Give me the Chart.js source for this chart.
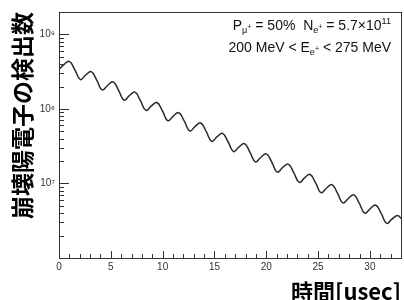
<!DOCTYPE html>
<html>
<head>
<meta charset="utf-8">
<script src="https://cdn.jsdelivr.net/npm/chart.js@4/dist/chart.umd.min.js"></script>
<style>
  html, body { margin: 0; padding: 0; background: #fff; }
</style>
</head>
<body>
<canvas id="chart" width="404" height="300"></canvas>
<script>
// time after injection [usec]
const times = [
  0, 0.47, 1.00, 1.53, 2.06, 2.58, 3.11, 3.64, 4.17, 4.70,
  5.22, 5.75, 6.28, 6.81, 7.34, 7.86, 8.39, 8.92, 9.45, 9.98,
  10.50, 11.03, 11.56, 12.09, 12.62, 13.14, 13.67, 14.20, 14.73, 15.26,
  15.78, 16.31, 16.84, 17.37, 17.90, 18.42, 18.95, 19.48, 20.01, 20.54,
  21.06, 21.59, 22.12, 22.65, 23.18, 23.70, 24.23, 24.76, 25.29, 25.82,
  26.34, 26.87, 27.40, 27.93, 28.46, 28.98, 29.51, 30.04, 30.57, 31.10,
  31.62, 32.15, 32.68, 33
];

// detected decay positrons
const counts = [
  3.38e8, 3.93e8, 4.35e8, 3.35e8, 2.48e8, 2.86e8, 3.17e8, 2.44e8, 1.80e8, 2.08e8,
  2.31e8, 1.78e8, 1.31e8, 1.52e8, 1.68e8, 1.29e8, 9.55e7, 1.10e8, 1.22e8, 9.41e7,
  6.95e7, 8.03e7, 8.90e7, 6.85e7, 5.06e7, 5.84e7, 6.48e7, 4.99e7, 3.68e7, 4.25e7,
  4.71e7, 3.63e7, 2.68e7, 3.10e7, 3.43e7, 2.64e7, 1.95e7, 2.25e7, 2.50e7, 1.92e7,
  1.42e7, 1.64e7, 1.82e7, 1.40e7, 1.035e7, 1.19e7, 1.32e7, 1.02e7, 7.53e6, 8.70e6,
  9.64e6, 7.42e6, 5.48e6, 6.33e6, 7.02e6, 5.40e6, 3.99e6, 4.61e6, 5.11e6, 3.93e6,
  2.91e6, 3.35e6, 3.72e6, 3.40e6
];

const yTickValues = [
  2e6, 3e6, 4e6, 5e6, 6e6, 7e6, 8e6, 9e6,
  1e7, 2e7, 3e7, 4e7, 5e7, 6e7, 7e7, 8e7, 9e7,
  1e8, 2e8, 3e8, 4e8, 5e8, 6e8, 7e8, 8e8, 9e8,
  1e9
];
const yTickLabels = { 1e7: '10⁷', 1e8: '10⁸', 1e9: '10⁹' };

const xLabelStep = 5;

// annotation, drawn as rich text: [text, size factor, baseline shift]
const infoLine1 = [
  ['P', 1, 0], ['μ', 0.65, 3], ['+', 0.5, -1],
  [' = 50%  N', 1, 0], ['e', 0.65, 3], ['+', 0.5, -1],
  [' = 5.7×10', 1, 0], ['11', 0.65, -6]
];
const infoLine2 = [
  ['200 MeV < E', 1, 0], ['e', 0.65, 3], ['+', 0.5, -1],
  [' < 275 MeV', 1, 0]
];

const FONT = '"Liberation Sans", Arial, sans-serif';
const CJK = '"Noto Sans CJK JP", sans-serif';

function drawRich(ctx, parts, right, baseline, size) {
  let total = 0;
  parts.forEach(p => {
    ctx.font = (size * p[1]) + 'px ' + FONT;
    total += ctx.measureText(p[0]).width;
  });
  let x = right - total;
  parts.forEach(p => {
    ctx.font = (size * p[1]) + 'px ' + FONT;
    ctx.fillText(p[0], x, baseline + p[2]);
    x += ctx.measureText(p[0]).width;
  });
}

const framePlugin = {
  id: 'frame',
  afterDatasetsDraw(chart) {
    const { ctx, chartArea: a, scales: { x, y } } = chart;
    ctx.save();
    ctx.strokeStyle = '#333';
    ctx.lineWidth = 1;
    ctx.beginPath();
    y.ticks.forEach(t => {
      const py = Math.round(y.getPixelForValue(t.value)) + 0.5;
      const len = yTickLabels[t.value] ? 10 : 5;
      ctx.moveTo(a.left, py);
      ctx.lineTo(a.left + len, py);
    });
    x.ticks.forEach(t => {
      const px = Math.round(x.getPixelForValue(t.value)) + 0.5;
      const len = t.value % xLabelStep === 0 ? 7 : 4;
      ctx.moveTo(px, a.bottom);
      ctx.lineTo(px, a.bottom - len);
    });
    ctx.stroke();
    ctx.strokeRect(a.left + 0.5, a.top + 0.5, a.width, a.height);

    ctx.fillStyle = '#111';
    ctx.textBaseline = 'alphabetic';
    drawRich(ctx, infoLine1, a.right - 10, 30, 14);
    drawRich(ctx, infoLine2, a.right - 10, 52, 14);
    ctx.restore();
  }
};

new Chart(document.getElementById('chart'), {
  type: 'line',
  data: {
    datasets: [{
      data: times.map((t, i) => ({ x: t, y: counts[i] })),
      borderColor: '#2a2a2a',
      borderWidth: 1.5,
      pointRadius: 0,
      tension: 0.45,
      fill: false
    }]
  },
  options: {
    responsive: false,
    devicePixelRatio: 1,
    animation: false,
    layout: { padding: { top: 12, right: 3, left: 0, bottom: 0 } },
    plugins: { legend: { display: false }, tooltip: { enabled: false } },
    scales: {
      x: {
        type: 'linear',
        min: 0,
        max: 33,
        grid: { display: false, drawTicks: false },
        border: { display: false },
        ticks: {
          stepSize: 1,
          autoSkip: false,
          maxRotation: 0,
          padding: 3,
          color: '#333',
          font: { family: FONT, size: 10 },
          callback: v => (v % xLabelStep === 0 ? String(v) : '')
        },
        title: {
          display: true,
          text: '時間[usec]',
          align: 'end',
          color: '#000',
          font: { family: CJK, size: 22, weight: 'bold', lineHeight: 1 },
          padding: { top: 0, bottom: -3 }
        },
        afterFit: s => { s.height = 42; }
      },
      y: {
        type: 'logarithmic',
        min: 1e6,
        max: 2e9,
        grid: { display: false, drawTicks: false },
        border: { display: false },
        afterBuildTicks: s => { s.ticks = yTickValues.map(v => ({ value: v })); },
        ticks: {
          autoSkip: false,
          padding: 4,
          color: '#333',
          font: { family: FONT, size: 10 },
          callback: v => yTickLabels[v] || ''
        },
        title: {
          display: true,
          text: '崩壊陽電子の検出数',
          align: 'end',
          color: '#000',
          font: { family: CJK, size: 23, weight: 'bold', lineHeight: 1 },
          padding: { top: 11, bottom: 0 }
        },
        afterFit: s => { s.width = 59; }
      }
    }
  },
  plugins: [framePlugin]
});
</script>
</body>
</html>
